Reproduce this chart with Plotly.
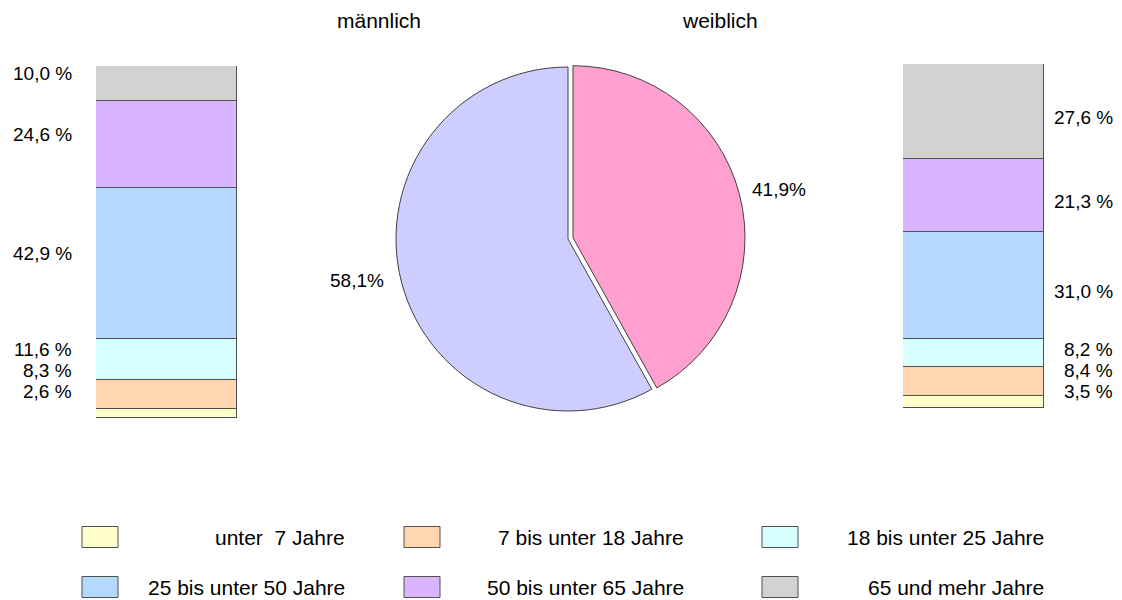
import math
import plotly.graph_objects as go

# ---------------- data ----------------
categories = ["unter  7 Jahre", "7 bis unter 18 Jahre", "18 bis unter 25 Jahre",
              "25 bis unter 50 Jahre", "50 bis unter 65 Jahre", "65 und mehr Jahre"]
male_shares = [2.6, 8.3, 11.6, 42.9, 24.6, 10.0]      # bottom -> top
female_shares = [3.5, 8.4, 8.2, 31.0, 21.3, 27.6]     # bottom -> top
sex_labels = ["weiblich", "männlich"]
sex_shares = [41.9, 58.1]

# ---------------- styles ----------------
cat_colors = ["#FFFFCC", "#FFD6B0", "#D6FFFF", "#B5D8FF", "#DAB5FF", "#D2D2D2"]
pie_colors = ["#FFA0D0", "#CDCDFF"]
FONT = "Liberation Sans, Arial, sans-serif"
PAGE_W, PAGE_H = 1122, 600
OFF = 8                      # default body margin of the html page
FW, FH = PAGE_W - OFF, PAGE_H - OFF


def px_x(x):
    return (x - OFF) / FW


def px_y(y):
    return 1 - (y - OFF) / FH


fig = go.Figure()

# stacked bars
bar_boxes = {
    "m": dict(x0=96, x1=237, top=66, bottom=418, ax="x", ay="y"),
    "f": dict(x0=903, x1=1044, top=64, bottom=408, ax="x2", ay="y2"),
}
for i, cat in enumerate(categories):
    for key, vals in (("m", male_shares), ("f", female_shares)):
        b = bar_boxes[key]
        fig.add_trace(go.Bar(
            x=[0], y=[vals[i]], width=1, name=cat,
            xaxis=b["ax"], yaxis=b["ay"], showlegend=False,
            marker=dict(color=cat_colors[i], line=dict(color="#505050", width=1)),
            hoverinfo="skip"))

# pie
pie_c = (568, 239)
pie_r = 172
pull = 0.03
half = pie_r * (1 + pull)
fig.add_trace(go.Pie(
    labels=sex_labels, values=sex_shares, sort=False, direction="clockwise",
    rotation=0, pull=[pull, 0], textinfo="none", hoverinfo="skip",
    marker=dict(colors=pie_colors, line=dict(color="#404040", width=1)),
    domain=dict(x=[px_x(pie_c[0] - half), px_x(pie_c[0] + half)],
                y=[px_y(pie_c[1] + half), px_y(pie_c[1] - half)]),
    showlegend=False))

annotations = []


def fmt(v, space=True):
    s = f"{v:.1f}".replace(".", ",")
    return s + (" %" if space else "%")


# bar value labels: segment centres, stacked upward so they never overlap
LABEL_FLOOR = 391
LABEL_GAP = 21


def label_positions(vals, top, bottom, shift):
    cum = 0
    ys = []
    for i, v in enumerate(vals):
        c = top + (100 - (cum + v / 2)) / 100 * (bottom - top) + shift
        cum += v
        limit = LABEL_FLOOR if i == 0 else ys[-1] - LABEL_GAP
        ys.append(min(c, limit))
    return ys


lab_font = dict(family=FONT, size=19, color="#000000")
for key, vals, xr, shift in (("m", male_shares, 74, -10), ("f", female_shares, 1115, 6)):
    b = bar_boxes[key]
    ys = label_positions(vals, b["top"], b["bottom"], shift)
    for v, y in zip(vals, ys):
        annotations.append(dict(x=px_x(xr), y=px_y(y), xref="paper", yref="paper",
                                text=fmt(v), showarrow=False, xanchor="right",
                                yanchor="middle", font=lab_font))

# pie labels (outside, along each slice's bisector)
cum = 0
for v in sex_shares:
    ang = (cum + v / 2) / 100 * 2 * math.pi
    cum += v
    lx = pie_c[0] + pie_r * 1.27 * math.sin(ang)
    ly = pie_c[1] - 4 - pie_r * 1.06 * math.cos(ang)
    annotations.append(dict(x=px_x(lx), y=px_y(ly), xref="paper", yref="paper",
                            text=fmt(v, space=False), showarrow=False,
                            xanchor="center", yanchor="middle", font=lab_font))

# headings
head_font = dict(family=FONT, size=21, color="#000000")
for txt, cx in (("männlich", 379), ("weiblich", 720)):
    annotations.append(dict(x=px_x(cx), y=px_y(20), xref="paper", yref="paper",
                            text=txt, showarrow=False, xanchor="center",
                            yanchor="middle", font=head_font))

# manual legend (3 columns x 2 rows)
shapes = []
col_box_x = [82, 404, 762]
col_text_right = [347, 686, 1046]
row_centre_y = [537, 587]
box_w, box_h = 36, 21
leg_font = dict(family=FONT, size=21, color="#000000")
for i, cat in enumerate(categories):
    r, c = divmod(i, 3)
    yc = row_centre_y[r]
    shapes.append(dict(type="rect", xref="paper", yref="paper",
                       x0=px_x(col_box_x[c]), x1=px_x(col_box_x[c] + box_w),
                       y0=px_y(yc + box_h / 2), y1=px_y(yc - box_h / 2),
                       fillcolor=cat_colors[i], line=dict(color="#505050", width=1)))
    annotations.append(dict(x=px_x(col_text_right[c]), y=px_y(yc), xref="paper",
                            yref="paper", text=cat, showarrow=False,
                            xanchor="right", yanchor="middle", font=leg_font))

axis_common = dict(visible=False, fixedrange=True)
fig.update_layout(
    width=FW, height=FH, margin=dict(l=0, r=0, t=0, b=0),
    paper_bgcolor="white", plot_bgcolor="rgba(0,0,0,0)",
    barmode="stack", bargap=0,
    xaxis=dict(domain=[px_x(96), px_x(237)], range=[-0.5, 0.5], **axis_common),
    yaxis=dict(domain=[px_y(418), px_y(66)], range=[0, 100], **axis_common),
    xaxis2=dict(domain=[px_x(903), px_x(1044)], range=[-0.5, 0.5], anchor="y2", **axis_common),
    yaxis2=dict(domain=[px_y(408), px_y(64)], range=[0, 100], anchor="x2", **axis_common),
    annotations=annotations, shapes=shapes,
    font=dict(family=FONT),
)

fig.write_html("out.html")
